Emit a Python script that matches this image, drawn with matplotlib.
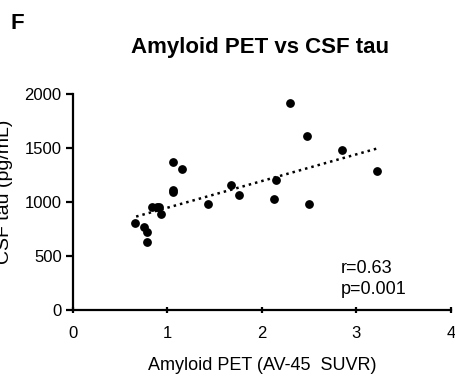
import matplotlib
matplotlib.use("Agg")
import matplotlib.pyplot as plt

plt.rcParams['font.family'] = ['Liberation Sans', 'DejaVu Sans']

# amyloid PET (AV-45 SUVR) and CSF tau (pg/mL)
pet = [0.656, 0.755, 0.78, 0.78, 0.833, 0.886, 0.91, 0.93, 1.055, 1.055, 1.055,
       1.153, 1.432, 1.675, 1.753, 2.127, 2.15, 2.30, 2.476, 2.50, 2.85, 3.22]
tau = [808, 769, 719, 630, 957, 957, 957, 892, 1370, 1111, 1090,
       1305, 978, 1154, 1068, 1025, 1204, 1920, 1614, 981, 1481, 1287]

# regression line end points
trend_x = [0.67, 3.23]
trend_y = [864, 1497]

x_ticks = [0, 1, 2, 3, 4]
y_ticks = [0, 500, 1000, 1500, 2000]

fig = plt.figure(figsize=(4.55, 3.77), dpi=100)
ax = fig.add_axes([0.160, 0.178, 0.831, 0.573])

ax.scatter(pet, tau, s=28, color='black', zorder=3)
ax.plot(trend_x, trend_y, color='black', linestyle=(0, (1, 1.6)), linewidth=1.8)

ax.set_xlim(0, 4)
ax.set_ylim(0, 2000)
ax.set_xticks(x_ticks)
ax.set_yticks(y_ticks)
ax.spines['top'].set_visible(False)
ax.spines['right'].set_visible(False)
ax.spines['left'].set_linewidth(1.6)
ax.spines['bottom'].set_linewidth(1.6)
ax.tick_params(axis='both', labelsize=12, width=1.6, length=5, direction='out')
ax.tick_params(axis='x', direction='inout', pad=9)
ax.tick_params(axis='y', pad=3)

# axis labels placed by hand (y label runs off the left edge, as in the figure)
fig.text(0.576, 0.0186, 'Amyloid PET (AV-45  SUVR)', fontsize=13,
         ha='center', va='baseline')
fig.text(0.029, 0.491, 'CSF tau (pg/mL)', rotation=90, fontsize=14,
         ha='right', va='center')

ax.text(2.836, 380, 'r=0.63', fontsize=13, va='center')
ax.text(2.836, 185, 'p=0.001', fontsize=13, va='center')

fig.text(0.571, 0.859, 'Amyloid PET vs CSF tau', fontsize=16, fontweight='bold',
         ha='center', va='baseline')
fig.text(0.022, 0.923, 'F', fontsize=16, fontweight='bold', ha='left', va='baseline')

fig.savefig('out.png', dpi=100)
